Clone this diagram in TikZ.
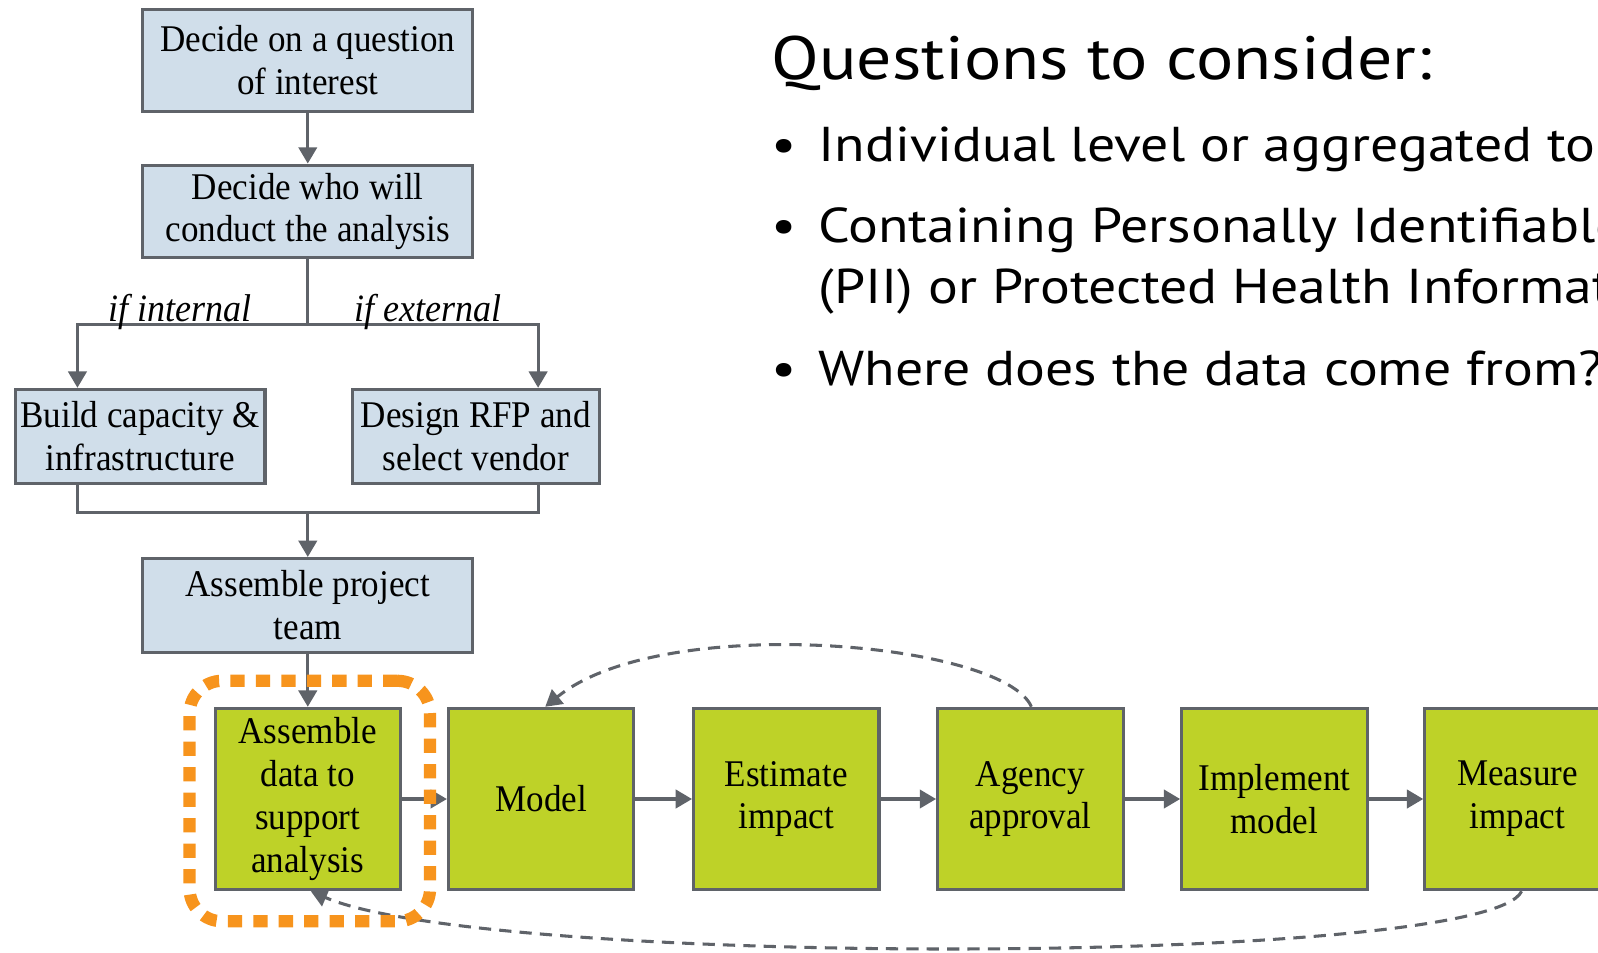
\documentclass[tikz,border=0pt]{standalone}
\usepackage{fontspec}
\setmainfont{Liberation Serif}[FakeStretch=0.93]
\newfontfamily\qfont{PT Sans}[FakeStretch=1.14]
\usetikzlibrary{arrows.meta}
\definecolor{edgegray}{HTML}{5F6369}
\definecolor{bluefill}{HTML}{D0DEEA}
\definecolor{greenfill}{HTML}{BED228}
\definecolor{hiorange}{HTML}{F7941D}
\begin{document}
\begin{tikzpicture}[x=1pt,y=-1pt,
  bluebox/.style={draw=edgegray, line width=3pt, fill=bluefill, inner sep=0pt, align=center,
    font=\fontsize{37}{42}\selectfont, minimum width=324pt, minimum height=92pt},
  greenbox/.style={draw=edgegray, line width=3pt, fill=greenfill, inner sep=0pt, align=center,
    font=\fontsize{37}{42}\selectfont, minimum width=182pt, minimum height=178pt},
  arr/.style={draw=edgegray, line width=3pt, -{Triangle[length=16pt,width=18pt]}},
  link/.style={draw=edgegray, line width=3pt},
  loopback/.style={draw=edgegray, line width=3pt, dash pattern=on 12pt off 8pt, -{Triangle[length=16pt,width=18pt]}},
  branchlabel/.style={font=\itshape\fontsize{38}{42}\selectfont, anchor=base, inner sep=0pt},
  focus/.style={draw=hiorange, line width=12pt, dash pattern=on 14pt off 11pt, rounded corners=32pt, inner sep=0pt},
  qtitle/.style={font=\qfont\fontsize{60}{70}\selectfont, anchor=base west, inner sep=0pt},
  qtext/.style={font=\qfont\fontsize{48}{60}\selectfont, anchor=base west, inner sep=0pt},
]
\path[use as bounding box, fill=white] (0,0) rectangle (1568,935);
\clip (0,0) rectangle (1568,935);

% left flow
\node[bluebox, minimum height=100pt] (q) at (302,59) {Decide on a question\\of interest};
\node[bluebox, minimum height=91pt] (who) at (302,207.5) {Decide who will\\conduct the analysis};
\node[bluebox, minimum width=245pt] (build) at (137.5,428) {Build capacity \&\\infrastructure};
\node[bluebox, minimum width=242pt] (rfp) at (467,428) {Design RFP and\\select vendor};
\node[bluebox] (team) at (302,594) {Assemble project\\team};

\coordinate (split) at (302,318);
\coordinate (join) at (302,503);

\draw[arr] (q) -- (who);
\draw[link] (who.south) -- (split);
\draw[arr] (split) -| ([xshift=-61.5pt]build.north);
\draw[arr] (split) -| ([xshift=61pt]rfp.north);
\node[branchlabel] (lint) at (177,315) {if internal};
\node[branchlabel] (lext) at (420,315) {if external};
\draw[link] ([xshift=-61.5pt]build.south) |- (join) -| ([xshift=61pt]rfp.south);
\draw[arr] (join) -- (team);

% green chain
\node[greenbox] (g1) at (302,784) {Assemble\\data to\\support\\analysis};
\node[greenbox] (g2) at (531,784) {Model};
\node[greenbox] (g3) at (771.5,784) {Estimate\\impact};
\node[greenbox] (g4) at (1011,784) {Agency\\approval};
\node[greenbox] (g5) at (1250.5,784) {Implement\\model};
\node[greenbox] (g6) at (1489,784) {Measure\\impact};

\draw[arr] (team) -- (g1);
\draw[arr] (g1) -- (g2);
\draw[arr] (g2) -- (g3);
\draw[arr] (g3) -- (g4);
\draw[arr] (g4) -- (g5);
\draw[arr] (g5) -- (g6);

\draw[loopback] ([xshift=1pt]g4.north) .. controls (985,630) and (650,600) .. ([xshift=4pt]g2.north);
\draw[loopback] ([xshift=4pt]g6.south) .. controls (1460,948) and (480,950) .. ([xshift=3pt]g1.south);

\node[focus, minimum width=236pt, minimum height=236pt] (hl) at (304,786) {};

% questions
\node[qtitle] (title) at (757,78) {Questions to consider:};
\node[qtext] (b1) at (757,158) {•};
\node[qtext] (t1) at (803,158) {Individual level or aggregated to};
\node[qtext] (b2) at (757,238) {•};
\node[qtext] (t2) at (803,238) {Containing Personally Identifiable};
\node[qtext] (t2b) at (803,298) {(PII) or Protected Health Information};
\node[qtext] (b3) at (757,378) {•};
\node[qtext] (t3) at (803,378) {Where does the data come from?};
\end{tikzpicture}
\end{document}
